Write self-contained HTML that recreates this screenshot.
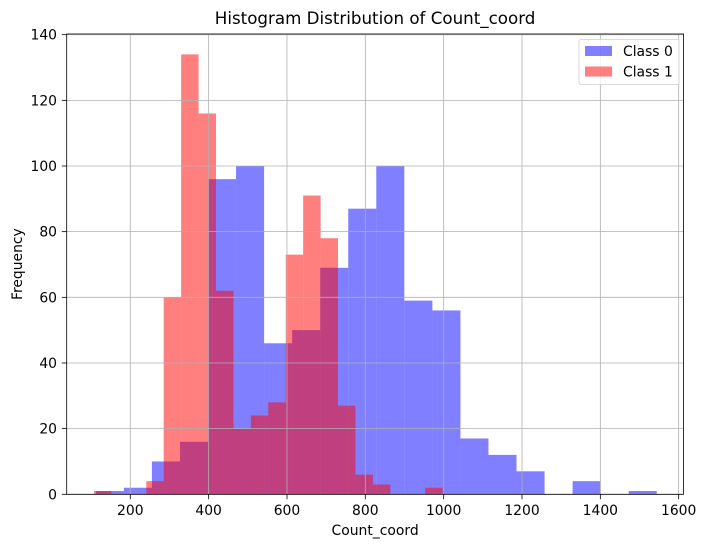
<!DOCTYPE html>
<html><head><meta charset="utf-8"><style>
body{margin:0;background:#fff;font-family:"Liberation Sans","DejaVu Sans",sans-serif}
</style></head><body>
<svg id="chart" width="705" height="547" xmlns="http://www.w3.org/2000/svg" font-family="DejaVu Sans, Liberation Sans, sans-serif"></svg>
<script>
const class0Start = 112, class0Width = 71.6;
const class0Counts = [1,2,10,16,96,100,46,50,69,87,100,59,56,17,12,7,0,4,0,1];
const class1Start = 107.3, class1Width = 44.5;
const class1Counts = [1,0,0,4,60,134,116,62,20,24,28,73,91,78,27,6,3,0,0,2];
const xTicks = [200,400,600,800,1000,1200,1400,1600];
const yTicks = [0,20,40,60,80,100,120,140];

const NS="http://www.w3.org/2000/svg";
const svg=document.getElementById('chart');
const L=66.7,R=683.5,T=34,B=494.3;
const xs=v=>130.3+(v-200)*0.3917;
const ys=v=>B-v*3.283;
function mk(t,a,p){const e=document.createElementNS(NS,t);for(const k in a)e.setAttribute(k,a[k]);(p||svg).appendChild(e);return e;}

const bars=mk('g',{});


class0Counts.forEach((c,i)=>{if(!c)return;const x0=xs(class0Start+i*class0Width),x1=xs(class0Start+(i+1)*class0Width);
 const r=mk('rect',{x:x0,y:ys(c),width:x1-x0,height:B-ys(c),fill:'#0000ff','fill-opacity':0.5},bars);
 
 });
class1Counts.forEach((c,i)=>{if(!c)return;const x0=xs(class1Start+i*class1Width),x1=xs(class1Start+(i+1)*class1Width);
 const r=mk('rect',{x:x0,y:ys(c),width:x1-x0,height:B-ys(c),fill:'#ff0000','fill-opacity':0.5},bars);
 
 });

const grid=mk('g',{stroke:'#b0b0b0','stroke-width':0.8});


xTicks.forEach(v=>{mk('line',{x1:xs(v),x2:xs(v),y1:T,y2:B},grid);});
yTicks.forEach(v=>{mk('line',{x1:L,x2:R,y1:ys(v),y2:ys(v)},grid);});

const ax=mk('rect',{x:L,y:T,width:R-L,height:B-T,fill:'none',stroke:'#000','stroke-width':0.8});



xTicks.forEach(v=>{mk('line',{x1:xs(v),x2:xs(v),y1:B,y2:B+4.9,stroke:'#000','stroke-width':0.8});
 const t=mk('text',{x:xs(v),y:B+20.5,'text-anchor':'middle','font-size':13.9});t.textContent=v;
 
 });
yTicks.forEach(v=>{mk('line',{x1:L-4.9,x2:L,y1:ys(v),y2:ys(v),stroke:'#000','stroke-width':0.8});
 const t=mk('text',{x:L-9.7,y:ys(v)+5,'text-anchor':'end','font-size':13.9});t.textContent=v;
 
 });

let t=mk('text',{x:(L+R)/2,y:24,'text-anchor':'middle','font-size':16.7});t.textContent='Histogram Distribution of Count_coord';


t=mk('text',{x:(L+R)/2,y:535,'text-anchor':'middle','font-size':13.9});t.textContent='Count_coord';


t=mk('text',{x:22,y:(T+B)/2,'text-anchor':'middle','font-size':13.9,transform:`rotate(-90 22 ${(T+B)/2})`});t.textContent='Frequency';



const lg=mk('g',{});


mk('rect',{x:579,y:39.5,width:100,height:45,rx:2,fill:'#fff','fill-opacity':0.8,stroke:'#d0d0d0','stroke-width':0.8},lg);
[['Class 0','#0000ff',51],['Class 1','#ff0000',71.5]].forEach(([n,c,y])=>{
 const e=mk('g',{},lg);
 
 
 mk('rect',{x:585,y:y-5,width:27,height:10,fill:c,'fill-opacity':0.5},e);
 const tt=mk('text',{x:623,y:y+5,'font-size':13.9},e);tt.textContent=n;});
</script>
</body></html>
